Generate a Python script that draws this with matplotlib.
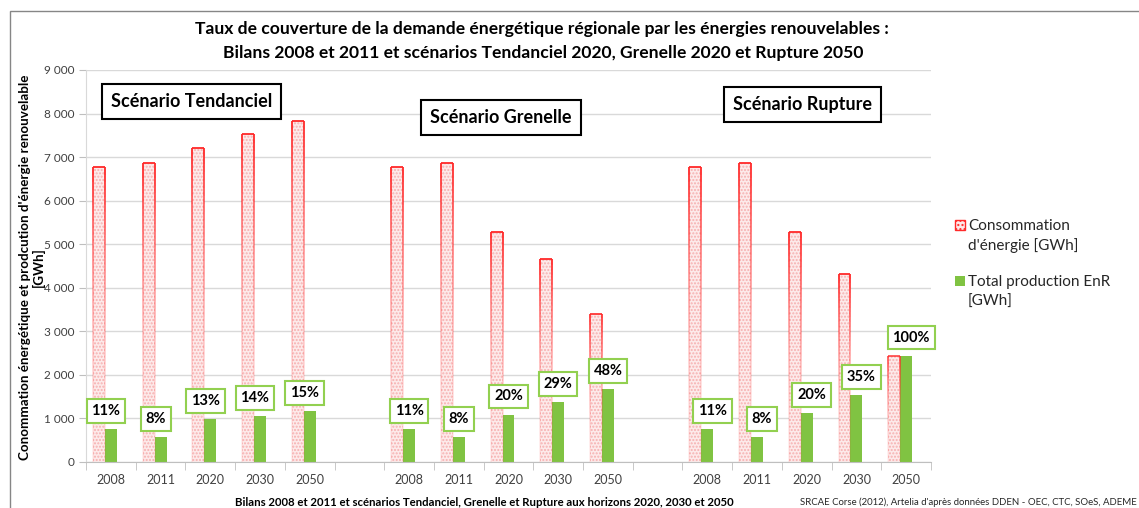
import numpy as np
import matplotlib.pyplot as plt
from matplotlib.patches import Rectangle
from matplotlib.collections import LineCollection

plt.rcParams['font.family'] = ['Lato', 'DejaVu Sans']

# Données
annees = ['2008', '2011', '2020', '2030', '2050']
scenarios = ['Scénario Tendanciel', 'Scénario Grenelle', 'Scénario Rupture']

conso_tendanciel = [6770, 6870, 7210, 7520, 7840]
conso_grenelle = [6770, 6870, 5280, 4650, 3400]
conso_rupture = [6770, 6870, 5280, 4320, 2440]

enr_tendanciel = [760, 575, 980, 1055, 1165]
enr_grenelle = [760, 575, 1090, 1380, 1670]
enr_rupture = [760, 575, 1120, 1540, 2440]

taux_tendanciel = ['11%', '8%', '13%', '14%', '15%']
taux_grenelle = ['11%', '8%', '20%', '29%', '48%']
taux_rupture = ['11%', '8%', '20%', '35%', '100%']

conso = [conso_tendanciel, conso_grenelle, conso_rupture]
enr = [enr_tendanciel, enr_grenelle, enr_rupture]
taux = [taux_tendanciel, taux_grenelle, taux_rupture]

W, H = 1139, 508


def px(x, y):
    # pixels (origine en haut à gauche) -> fraction de figure
    return x / W, 1 - y / H


fig = plt.figure(figsize=(W / 100, H / 100), dpi=100)
ax = fig.add_axes([86 / W, 1 - 462 / H, 845 / W, 392 / H])

rouge = '#ff2a2a'
rose = '#fdeaea'
vert = '#80c342'
vert_cadre = '#92d050'
w = 0.24

for g in range(3):
    x = np.arange(len(annees)) + 6 * g
    # barres consommation : remplissage à motif + contour dégradé
    ax.bar(x - w, conso[g], w, color=rose, edgecolor='#f6b0b0', hatch='.....', linewidth=0)
    for xi, h in zip(x, conso[g]):
        left, right = xi - 1.5 * w, xi - 0.5 * w
        ys = np.linspace(0, h, 40)
        force = min(1.0, 0.45 + h / 7000)
        segs, cols = [], []
        for k in range(len(ys) - 1):
            a = force * (0.08 + 0.92 * (ys[k + 1] / h) ** 2)
            for xe in (left, right):
                segs.append([(xe, ys[k]), (xe, ys[k + 1])])
                cols.append((1, 0.16, 0.16, a))
        segs.append([(left, h), (right, h)])
        cols.append((1, 0.16, 0.16, force))
        ax.add_collection(LineCollection(segs, colors=cols, linewidths=1.3))

    ax.bar(x, enr[g], w, color=vert, linewidth=0)

    decalage = [-0.1, 0.0, 0.1][g]
    for xi, h, t in zip(x, enr[g], taux[g]):
        ax.annotate(t, (xi + decalage, h), xytext=(0, 13), textcoords='offset points',
                    ha='center', va='center', fontsize=10.5, fontweight='bold',
                    bbox=dict(boxstyle='square,pad=0.33', fc='white', ec=vert_cadre, lw=1.5))

# boîtes des scénarios
for (bx, by), s in zip([(0.125, 0.92), (0.491, 0.878), (0.848, 0.911)], scenarios):
    ax.text(bx, by, s, transform=ax.transAxes, ha='center', va='center',
            fontsize=13, fontweight='bold',
            bbox=dict(boxstyle='square,pad=0.5', fc='white', ec='black', lw=1.5))

ax.set_xlim(-0.5, 16.5)
ax.set_ylim(0, 9000)
positions = [i + 6 * g for g in range(3) for i in range(5)]
ax.set_xticks(positions)
ax.set_xticklabels(annees * 3)
ax.set_xticks(np.arange(-0.5, 17, 1), minor=True)
ax.tick_params(axis='x', which='major', length=0, pad=9, labelsize=9, labelcolor='#404040')
ax.tick_params(axis='x', which='minor', length=6, color='#bfbfbf')
ax.set_yticks(range(0, 9001, 1000))
ax.set_yticklabels([f'{v:,}'.replace(',', ' ') for v in range(0, 9001, 1000)])
ax.tick_params(axis='y', length=5, color='#bfbfbf', labelsize=8.5, labelcolor='#404040')
ax.yaxis.grid(True, color='#d9d9d9', lw=1)
ax.set_axisbelow(True)
for s in ['top', 'right']:
    ax.spines[s].set_visible(False)
ax.spines['left'].set_color('#d9d9d9')
ax.spines['bottom'].set_color('#bfbfbf')

# titres et légendes d'axes
fig.text(*px(542, 29), "Taux de couverture de la demande énergétique régionale par les énergies renouvelables :",
         ha='center', va='center', fontsize=12.6, fontweight='bold')
fig.text(*px(543, 53), "Bilans 2008 et 2011 et scénarios Tendanciel 2020, Grenelle 2020 et Rupture 2050",
         ha='center', va='center', fontsize=12.6, fontweight='bold')
fig.text(*px(32, 267), "Conommation énergétique et prodcution d'énergie renouvelable\n[GWh]",
         rotation=90, ha='center', va='center', fontsize=9.6, fontweight='bold', linespacing=1.15)
fig.text(*px(484, 503), "Bilans 2008 et 2011 et scénarios Tendanciel, Grenelle et Rupture aux horizons 2020, 2030 et 2050",
         ha='center', va='center', fontsize=8.2, fontweight='bold')
fig.text(*px(800, 502), "SRCAE Corse (2012), Artelia d'après données DDEN - OEC, CTC, SOeS, ADEME",
         ha='left', va='center', fontsize=6.9, color='#262626')

# légende manuelle
x0, y0 = px(955, 230)
fig.add_artist(Rectangle((x0, y0), 10 / W, 10 / H, transform=fig.transFigure,
                         fc=rose, ec=rouge, lw=1, hatch='....'))
x0, y0 = px(955, 286)
fig.add_artist(Rectangle((x0, y0), 10 / W, 10 / H, transform=fig.transFigure, fc=vert, ec='none'))
fig.text(*px(968, 236), "Consommation\nd'énergie [GWh]", ha='left', va='center', fontsize=11,
         color='#262626', linespacing=1.5)
fig.text(*px(968, 292), "Total production EnR\n[GWh]", ha='left', va='center', fontsize=11,
         color='#262626', linespacing=1.5)

# cadre du graphique
x0, y0 = px(10, 11)
fig.add_artist(Rectangle((x0, -0.1), 2, y0 + 0.1, transform=fig.transFigure,
                         fill=False, ec='#868686', lw=1))

fig.savefig('out.png', dpi=100)
